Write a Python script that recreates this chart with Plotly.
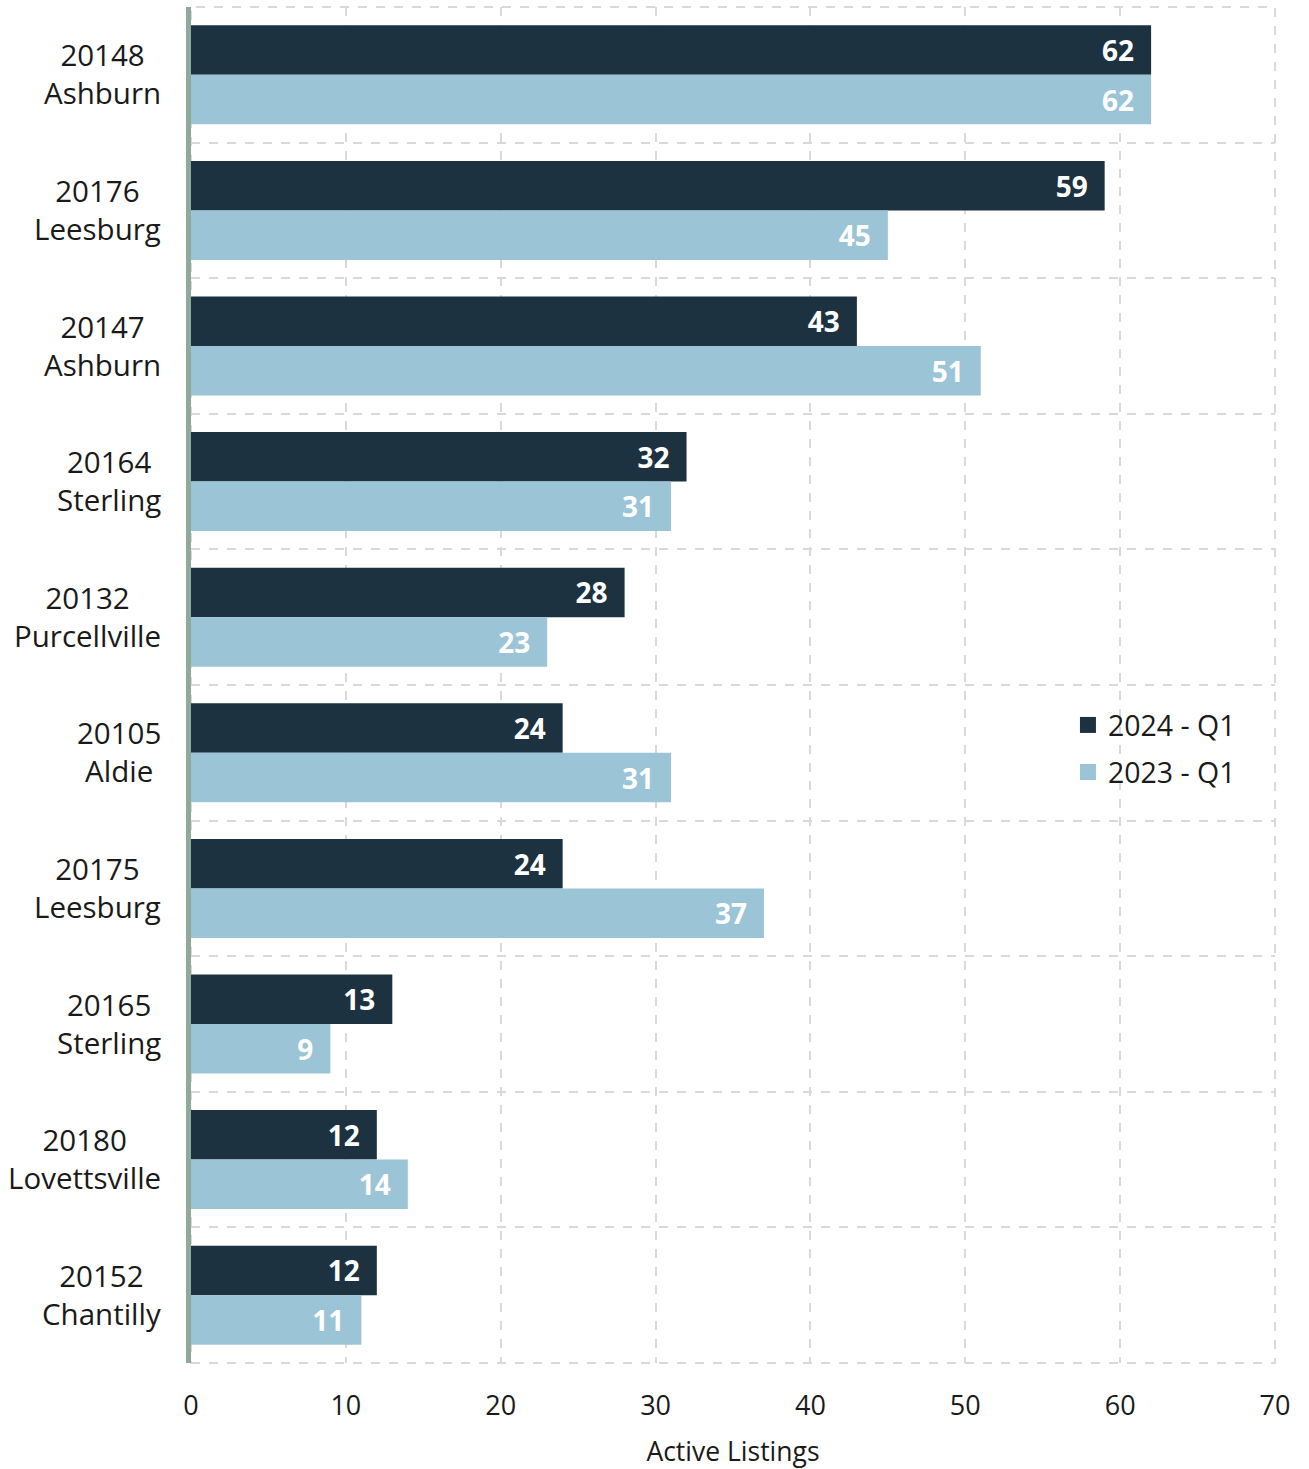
import plotly.graph_objects as go

zips = ["20148", "20176", "20147", "20164", "20132", "20105", "20175", "20165", "20180", "20152"]
towns = ["Ashburn", "Leesburg", "Ashburn", "Sterling", "Purcellville", "Aldie", "Leesburg", "Sterling", "Lovettsville", "Chantilly"]
q1_2024 = [62, 59, 43, 32, 28, 24, 24, 13, 12, 12]
q1_2023 = [62, 45, 51, 31, 23, 31, 37, 9, 14, 11]
series_names = ["2024 - Q1", "2023 - Q1"]
colors = ["#1d3240", "#9cc4d7"]

cats = [f"{z} {t}" for z, t in zip(zips, towns)]
FONT = "Open Sans"
GRID = "#d9d9d9"

fig = go.Figure()
for name, vals, col in zip(series_names, [q1_2024, q1_2023], colors):
    fig.add_trace(go.Bar(
        y=cats, x=vals, name=name, orientation="h", showlegend=False,
        marker=dict(color=col, line=dict(width=0)),
        text=vals, texttemplate="<b>%{text}</b>\u2002",
        textposition="inside", insidetextanchor="end",
        textfont=dict(color="white", size=28, family=FONT),
    ))

# legend entries with larger square swatches
for i, (name, col) in enumerate(zip(series_names, colors)):
    fig.add_trace(go.Scatter(
        x=[None], y=[None], mode="markers", name=name,
        legendgroup=f"g{i}",
        marker=dict(symbol="square", size=18, color=col),
    ))

for c, z, t in zip(cats, zips, towns):
    fig.add_annotation(x=0, xref="paper", y=c, yref="y",
                       text=f"{z}<br>{t}", showarrow=False,
                       xanchor="right", yanchor="middle", align="center",
                       xshift=-28, yshift=1,
                       font=dict(size=29.5, family=FONT, color="#1a1a1a"))

# dashed frame of the plot area (top, right, bottom grid borders)
fig.add_shape(type="rect", xref="paper", yref="paper", x0=0, x1=1, y0=0, y1=1,
              line=dict(color=GRID, width=2, dash="dash"), layer="below")

fig.update_layout(
    width=1309, height=1469,
    margin=dict(l=191, r=34, t=7, b=106),
    paper_bgcolor="white", plot_bgcolor="white",
    barmode="group", bargap=0.27, bargroupgap=0,
    font=dict(family=FONT, size=28, color="#1a1a1a"),
    showlegend=True,
    legend=dict(x=0.809, y=0.489, xanchor="left", yanchor="top",
                bgcolor="rgba(0,0,0,0)", font=dict(size=28.5, family=FONT),
                itemwidth=30, tracegroupgap=7, traceorder="grouped"),
    xaxis=dict(range=[0, 70], dtick=10, showgrid=True, gridcolor=GRID,
               griddash="dash", gridwidth=2, zeroline=False, showline=False,
               ticks="outside", ticklen=19, tickcolor="rgba(0,0,0,0)",
               tickfont=dict(size=27, family=FONT),
               title=dict(text="Active Listings", font=dict(size=26.5, family=FONT), standoff=20)),
    yaxis=dict(type="category", categoryorder="array", categoryarray=cats,
               range=[9.5, -0.5], tickson="boundaries", showgrid=True,
               gridcolor=GRID, griddash="dash", gridwidth=2,
               showticklabels=False, ticks="",
               showline=True, linecolor="#8fa99a", linewidth=5, zeroline=False),
)

fig.write_html("out.html")
